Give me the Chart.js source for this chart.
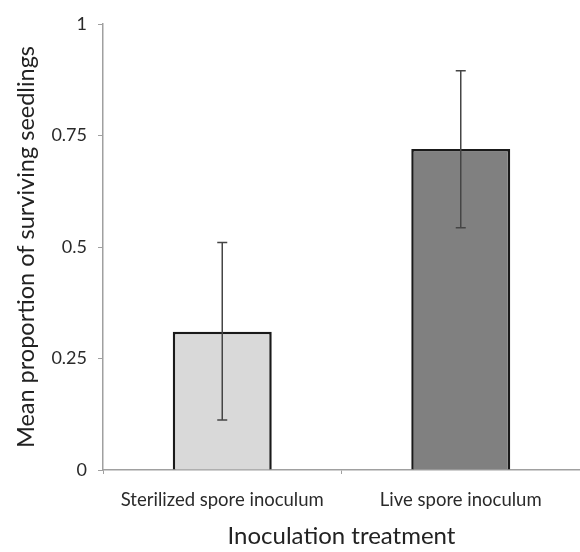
<!DOCTYPE html>
<html lang="en">
<head>
    <meta charset="UTF-8">
    <title>Seedling survival</title>
    <script src="https://cdn.jsdelivr.net/npm/chart.js"></script>
    <style>
        html, body { margin: 0; padding: 0; background: #fff; }
        #wrap { width: 580px; height: 552px; }
    </style>
</head>
<body>
    <div id="wrap"><canvas id="survChart"></canvas></div>

    <script>
        // data
        const treatments = ['Sterilized spore inoculum', 'Live spore inoculum'];
        const meanSurvival = [0.31, 0.72];
        const errLow = [0.112, 0.543];
        const errHigh = [0.51, 0.895];
        const yTicks = [0, 0.25, 0.5, 0.75, 1];
        const barColors = ['#d9d9d9', '#808080'];

        // error bars drawn on top of the bars
        const errorBars = {
            id: 'errorBars',
            afterDatasetsDraw(chart) {
                const ctx = chart.ctx;
                const y = chart.scales.y;
                const bars = chart.getDatasetMeta(0).data;
                ctx.save();
                ctx.strokeStyle = '#454545';
                ctx.lineWidth = 1.5;
                bars.forEach((bar, i) => {
                    const top = y.getPixelForValue(errHigh[i]);
                    const bot = y.getPixelForValue(errLow[i]);
                    ctx.beginPath();
                    ctx.moveTo(bar.x, top);
                    ctx.lineTo(bar.x, bot);
                    ctx.moveTo(bar.x - 5, top);
                    ctx.lineTo(bar.x + 5, top);
                    ctx.moveTo(bar.x - 5, bot);
                    ctx.lineTo(bar.x + 5, bot);
                    ctx.stroke();
                });
                ctx.restore();
            }
        };

        const ctx = document.getElementById('survChart').getContext('2d');
        new Chart(ctx, {
            type: 'bar',
            data: {
                labels: treatments,
                datasets: [{
                    data: meanSurvival,
                    backgroundColor: barColors,
                    borderColor: '#1a1a1a',
                    borderWidth: 2.5,
                    categoryPercentage: 1,
                    barPercentage: 0.415
                }]
            },
            options: {
                responsive: true,
                maintainAspectRatio: false,
                animation: false,
                layout: { padding: { top: 24, right: 0, left: 0, bottom: 0 } },
                plugins: {
                    legend: { display: false },
                    tooltip: { enabled: false }
                },
                scales: {
                    x: {
                        afterFit: s => { s.height = 82; },
                        grid: { drawOnChartArea: false, drawTicks: true, tickLength: 4, color: '#a0a0a0' },
                        border: { color: '#a0a0a0', width: 1.5 },
                        ticks: { color: '#2a2a2a', padding: 15, font: { family: 'Lato', size: 18.5 } },
                        title: {
                            display: true,
                            text: 'Inoculation treatment',
                            color: '#222',
                            font: { family: 'Lato', size: 24 },
                            padding: { top: 0, bottom: 1 }
                        }
                    },
                    y: {
                        min: 0,
                        max: 1,
                        afterFit: s => { s.width = 103; },
                        afterBuildTicks: s => { s.ticks = yTicks.map(v => ({ value: v })); },
                        grid: { drawOnChartArea: false, drawTicks: true, tickLength: 5, color: '#a0a0a0' },
                        border: { color: '#a0a0a0', width: 1.5 },
                        ticks: {
                            color: '#2a2a2a',
                            padding: 11,
                            font: { family: 'Lato', size: 18 },
                            callback: v => String(v)
                        },
                        title: {
                            display: true,
                            text: 'Mean proportion of surviving seedlings',
                            color: '#222',
                            font: { family: 'Lato', size: 23.5 },
                            padding: { top: 12, bottom: 4 }
                        }
                    }
                }
            },
            plugins: [errorBars]
        });
    </script>
</body>
</html>
